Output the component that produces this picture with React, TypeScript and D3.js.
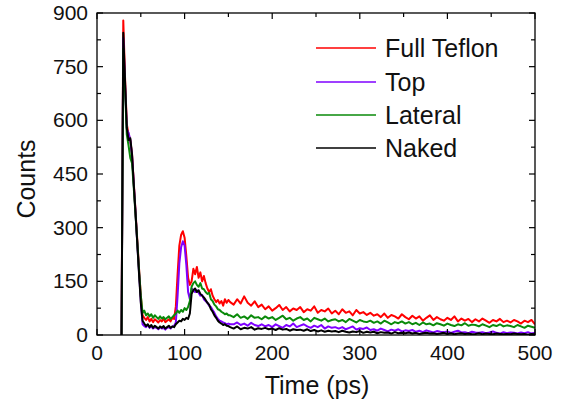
import React from 'react';
import * as d3 from 'd3';

// time axis (ps): fine step around the peaks, coarser step in the tail
const timesEarly = d3.range(28, 151, 2);
const timesLate = d3.range(152, 501, 4);
const times: number[] = [...timesEarly, ...timesLate];

const fullTeflonEarly = [
  0, 879, 720, 590, 560, 545, 505, 425, 345, 265, 185, 110,
  55, 48, 42, 50, 38, 45, 36, 44, 40, 35, 42, 38, 46, 36, 40, 44, 38, 48, 45,
  80, 170, 250, 280, 290, 272, 220, 160, 140, 150, 185, 170, 190, 160, 175, 150, 165, 145, 130, 120, 128, 110, 100, 92, 98, 88, 95, 82, 100, 90, 98,
];
const fullTeflonLate = [
  92, 85, 100, 88, 108, 90, 82, 94, 78, 85,
  72, 80, 68, 75, 84, 70, 78, 66, 74, 70,
  78, 64, 72, 68, 80, 62, 70, 66, 74, 60,
  68, 58, 72, 62, 66, 55, 70, 60, 64, 56,
  62, 54, 58, 50, 60, 48, 56, 52, 46, 58,
  50, 44, 54, 46, 52, 40, 48, 55, 42, 50,
  44, 40, 48, 42, 52, 38, 46, 40, 45, 36,
  44, 38, 46, 40, 34, 42, 38, 45, 36, 40,
  35, 42, 38, 32, 40, 36, 42, 30,
];

const topEarly = [
  0, 830, 700, 575, 565, 545, 500, 420, 340, 255, 175, 95,
  30, 25, 22, 28, 20, 24, 18, 22, 20, 16, 22, 18, 20, 15, 20, 22, 18, 24, 25,
  35, 110, 200, 245, 262, 250, 195, 120, 100, 130, 125, 120, 125, 118, 110, 112, 100, 95, 90, 82, 78, 70, 62, 52, 45, 40, 38, 35, 33, 30, 32, 30,
];
const topLate = [
  30, 35, 28, 32, 26, 34, 28, 25, 30, 24,
  28, 22, 30, 25, 20, 28, 24, 32, 22, 26,
  30, 24, 20, 26, 22, 28, 18, 24, 20, 22,
  18, 22, 16, 20, 24, 15, 19, 17, 21, 14,
  16, 12, 18, 14, 10, 15, 12, 16, 10, 13,
  11, 14, 9, 12, 8, 13, 10, 7, 11, 9,
  8, 10, 6, 9, 12, 7, 8, 5, 9, 7,
  6, 8, 5, 7, 10, 6, 4, 8, 5, 7,
  6, 4, 7, 5, 8, 4, 6, 5,
];

const lateralEarly = [
  0, 800, 690, 560, 530, 495, 480, 410, 335, 260, 180, 110,
  62, 68, 55, 60, 52, 58, 48, 55, 50, 45, 52, 46, 50, 44, 48, 52, 45, 50, 55,
  60, 68, 62, 70, 65, 75, 70, 78, 95, 135, 145, 150, 140, 135, 145, 130, 128, 120, 115, 118, 100, 95, 85, 80, 72, 70, 65, 62, 58, 60, 55,
];
const lateralLate = [
  55, 50, 58, 48, 52, 45, 55, 48, 50, 44,
  52, 46, 50, 42, 48, 54, 44, 48, 40, 46,
  50, 42, 46, 38, 48, 44, 40, 46, 38, 42,
  44, 38, 42, 36, 45, 40, 35, 42, 38, 36,
  40, 34, 38, 32, 40, 35, 30, 36, 33, 38,
  32, 36, 30, 34, 28, 35, 30, 32, 27, 33,
  30, 26, 32, 28, 25, 30, 27, 33, 26, 29,
  28, 24, 30, 26, 22, 28, 25, 30, 24, 27,
  25, 22, 28, 24, 20, 26, 23, 20,
];

const nakedEarly = [
  0, 845, 710, 580, 545, 550, 505, 420, 340, 255, 170, 90,
  40, 32, 25, 30, 22, 28, 20, 26, 22, 18, 24, 20, 25, 18, 22, 26, 20, 24, 22,
  30, 35, 40, 38, 45, 42, 48, 45, 60, 115, 125, 130, 120, 125, 115, 110, 105, 98, 90, 85, 72, 65, 55, 48, 40, 35, 32, 28, 30, 26, 25,
];
const nakedLate = [
  22, 18, 24, 16, 20, 18, 22, 15, 19, 17,
  20, 16, 18, 14, 19, 15, 17, 12, 16, 14,
  15, 12, 16, 11, 14, 10, 13, 9, 12, 10,
  11, 8, 12, 9, 7, 10, 8, 11, 6, 9,
  7, 9, 5, 8, 6, 7, 4, 8, 5, 6,
  5, 7, 4, 6, 3, 5, 6, 4, 5, 3,
  4, 6, 3, 5, 2, 4, 5, 3, 4, 2,
  3, 5, 2, 4, 3, 2, 4, 3, 2, 3,
  2, 4, 3, 2, 3, 1, 3, 2,
];

const fullTeflon = [...fullTeflonEarly, ...fullTeflonLate];
const top = [...topEarly, ...topLate];
const lateral = [...lateralEarly, ...lateralLate];
const naked = [...nakedEarly, ...nakedLate];

const seriesNames = ['Full Teflon', 'Top', 'Lateral', 'Naked'];
const seriesValues = [fullTeflon, top, lateral, naked];
const seriesColors = ['#ff0000', '#7f00ff', '#0a8a0a', '#000000'];

const xMajorTicks = [0, 100, 200, 300, 400, 500];
const xMinorTicks = [50, 150, 250, 350, 450];
const yMajorTicks = [0, 150, 300, 450, 600, 750, 900];
const yMinorTicks = [75, 225, 375, 525, 675, 825];

const W = 565;
const H = 405;
const L = 97, R = 535, T = 13, B = 335;
const FONT = '"Liberation Sans", Arial, Helvetica, sans-serif';

export default function App() {
  const x = d3.scaleLinear().domain([0, 500]).range([L, R]);
  const y = d3.scaleLinear().domain([0, 900]).range([B, T]);
  const line = d3
    .line<[number, number]>()
    .x((d) => x(d[0]))
    .y((d) => y(d[1]));

  const legendY = [48, 82, 115, 148];

  return (
    <svg
      width={W}
      height={H}
      style={{ position: 'absolute', left: 0, top: 0, background: '#fff' }}
      fontFamily={FONT}
    >
      <rect x={0} y={0} width={W} height={H} fill="#fff" />
      <defs>
        <clipPath id="plot">
          <rect x={L} y={T - 2} width={R - L} height={B - T + 2} />
        </clipPath>
      </defs>
      <g clipPath="url(#plot)">
        {seriesValues.map((vals, i) => (
          <path
            key={seriesNames[i]}
            d={line(times.map((t, j) => [t, vals[j]] as [number, number])) || ''}
            fill="none"
            stroke={seriesColors[i]}
            strokeWidth={2}
            strokeLinejoin="round"
          />
        ))}
      </g>
      {/* frame */}
      <rect x={L} y={T} width={R - L} height={B - T} fill="none" stroke="#000" strokeWidth={1.3} />
      {/* x ticks */}
      {xMajorTicks.map((t) => (
        <g key={'xM' + t}>
          <line x1={x(t)} x2={x(t)} y1={B} y2={B - 6} stroke="#000" strokeWidth={1.2} />
          <line x1={x(t)} x2={x(t)} y1={T} y2={T + 6} stroke="#000" strokeWidth={1.2} />
          <text x={x(t)} y={360} textAnchor="middle" fontSize={21} fill="#111">
            {t}
          </text>
        </g>
      ))}
      {xMinorTicks.map((t) => (
        <g key={'xm' + t}>
          <line x1={x(t)} x2={x(t)} y1={B} y2={B - 4} stroke="#000" strokeWidth={1.2} />
          <line x1={x(t)} x2={x(t)} y1={T} y2={T + 4} stroke="#000" strokeWidth={1.2} />
        </g>
      ))}
      {/* y ticks */}
      {yMajorTicks.map((v) => (
        <g key={'yM' + v}>
          <line x1={L} x2={L + 6} y1={y(v)} y2={y(v)} stroke="#000" strokeWidth={1.2} />
          <line x1={R} x2={R - 6} y1={y(v)} y2={y(v)} stroke="#000" strokeWidth={1.2} />
          <text x={88} y={y(v) + 7} textAnchor="end" fontSize={21} fill="#111">
            {v}
          </text>
        </g>
      ))}
      {yMinorTicks.map((v) => (
        <g key={'ym' + v}>
          <line x1={L} x2={L + 4} y1={y(v)} y2={y(v)} stroke="#000" strokeWidth={1.2} />
          <line x1={R} x2={R - 4} y1={y(v)} y2={y(v)} stroke="#000" strokeWidth={1.2} />
        </g>
      ))}
      {/* axis titles */}
      <text x={317} y={394} textAnchor="middle" fontSize={25} fill="#111">
        Time (ps)
      </text>
      <text
        transform={`translate(35, 179) rotate(-90)`}
        textAnchor="middle"
        fontSize={25}
        fill="#111"
      >
        Counts
      </text>
      {/* legend */}
      {seriesNames.map((name, i) => (
        <g key={'leg' + name}>
          <line x1={316} x2={376} y1={legendY[i]} y2={legendY[i]} stroke={seriesColors[i]} strokeWidth={1.7} />
          <text x={385} y={legendY[i] + 9} fontSize={25} fill="#111">
            {name}
          </text>
        </g>
      ))}
    </svg>
  );
}
